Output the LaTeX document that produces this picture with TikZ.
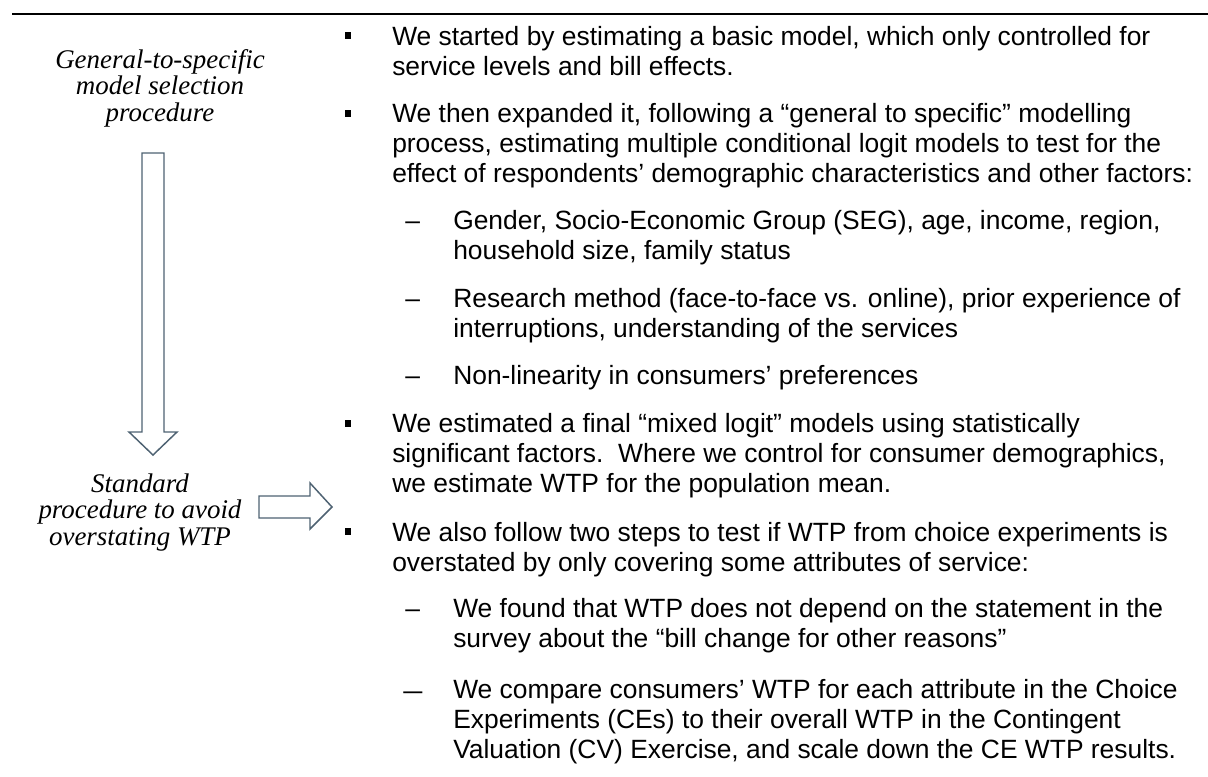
\documentclass[tikz,border=0pt]{standalone}
\usepackage{fontspec}
\setmainfont{Liberation Sans}
\newfontfamily\timesit{Liberation Serif}
\usepackage{tikz}
\usepackage{graphicx}
\definecolor{arrowslate}{RGB}{78,98,114}
\newcommand{\bodyfont}{\fontsize{19.8}{22.5}\selectfont}
\newcommand{\sidefont}{\timesit\itshape\fontsize{20.2}{20.2}\selectfont}
\newcommand{\paralines}[1]{\parbox[t]{660pt}{#1}}
\newcommand{\sidelines}[1]{\parbox[t]{250pt}{\centering #1}}
\tikzstyle{bodytext}=[anchor=base west, inner sep=0pt, font=\bodyfont]
\tikzstyle{sidetext}=[anchor=base, inner sep=0pt, font=\sidefont]
\tikzstyle{bulletsq}=[fill=black, minimum size=5pt, inner sep=0pt]
\tikzstyle{blockarrow}=[draw=arrowslate, line width=1.1pt, fill=white, line join=miter]

\begin{document}
\begin{tikzpicture}[x=0.75pt, y=-0.75pt]
	\useasboundingbox (0,0) rectangle (1208,776);
	\draw[line width=2pt] (12,14) -- (1208,14);
	% left column
	\node[sidetext] (gts) at (160,68) {\sidelines{General-to-specific\\model selection\\procedure}};
	\node[sidetext] (std) at (140,492) {\sidelines{Standard\\procedure to avoid\\overstating WTP}};
	\draw[blockarrow] (142,153) -- (164,153) -- (164,432) -- (177,432) -- (153,455) -- (129,432) -- (142,432) -- cycle;
	\draw[blockarrow] (259,496) -- (310,496) -- (310,483) -- (332,507) -- (310,529) -- (310,518) -- (259,518) -- cycle;
	% bullets
	\node[bulletsq] (b1) at (348,35.7) {};
	\node[bodytext] (t1) at (392,45) {\paralines{We started by estimating a basic model, which only controlled for\\service levels and bill effects.}};
	\node[bulletsq] (b2) at (348,113.3) {};
	\node[bodytext] (t2) at (392,122.6) {\paralines{We then expanded it, following a “general to specific” modelling\\process, estimating multiple conditional logit models to test for the\\effect of respondents’ demographic characteristics and other factors:}};
	\node[bodytext] (d1) at (405,229.5) {–};
	\node[bodytext] (s1) at (453,229.5) {\paralines{Gender, Socio-Economic Group (SEG), age, income, region,\\household size, family status}};
	\node[bodytext] (d2) at (405,307.8) {–};
	\node[bodytext] (s2) at (453,307.8) {\paralines{Research method (face-to-face vs. online), prior experience of\\interruptions, understanding of the services}};
	\node[bodytext] (d3) at (405,384.5) {–};
	\node[bodytext] (s3) at (453,384.5) {Non-linearity in consumers’ preferences};
	\node[bulletsq] (b3) at (348,423.3) {};
	\node[bodytext] (t3) at (392,432.6) {\paralines{We estimated a final “mixed logit” models using statistically\\significant factors.\ \ Where we control for consumer demographics,\\we estimate WTP for the population mean.}};
	\node[bulletsq] (b4) at (348,531.7) {};
	\node[bodytext] (t4) at (392,541) {\paralines{We also follow two steps to test if WTP from choice experiments is\\overstated by only covering some attributes of service:}};
	\node[bodytext] (d4) at (405,617) {–};
	\node[bodytext] (s4) at (453,617) {\paralines{We found that WTP does not depend on the statement in the\\survey about the “bill change for other reasons”}};
	\node[bodytext] (d5) at (403,699) {\scalebox{1.3}[1]{–}};
	\node[bodytext] (s5) at (453,698) {\paralines{We compare consumers’ WTP for each attribute in the Choice\\Experiments (CEs) to their overall WTP in the Contingent\\Valuation (CV) Exercise, and scale down the CE WTP results.}};
\end{tikzpicture}
\end{document}
